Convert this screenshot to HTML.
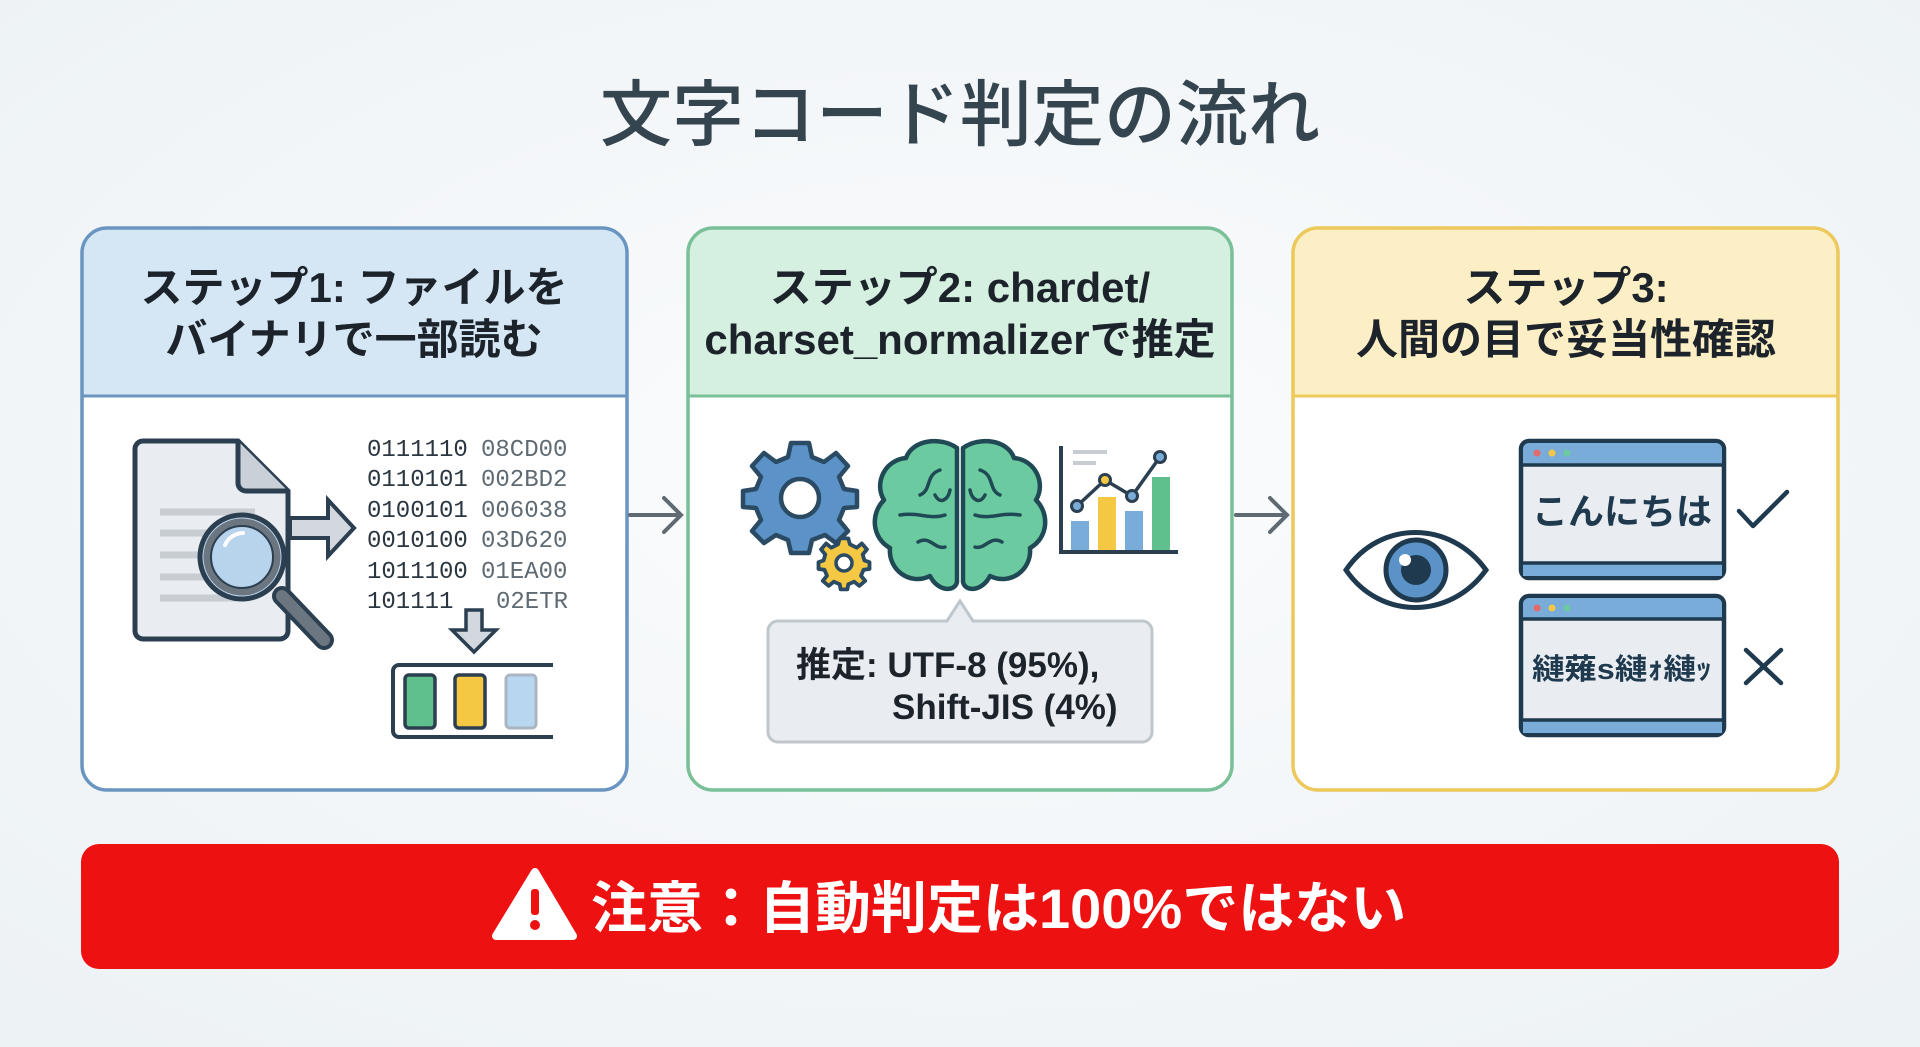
<!DOCTYPE html>
<html><head><meta charset="utf-8"><style>
html,body{margin:0;padding:0;width:1920px;height:1047px;overflow:hidden;background:#f3f6f8}
svg{display:block}
text{font-family:"Liberation Sans","Noto Sans CJK JP",sans-serif}
.h{font-size:42px;font-weight:bold;fill:#1c232a;text-anchor:middle}
text.m{font-family:"Liberation Mono","DejaVu Sans Mono",monospace;font-size:24px}
</style></head><body>
<svg width="1920" height="1047" viewBox="0 0 1920 1047">
<defs><radialGradient id="bg" cx="50%" cy="45%" r="70%"><stop offset="0" stop-color="#fbfcfd"/><stop offset="1" stop-color="#edf2f5"/></radialGradient></defs>
<rect width="1920" height="1047" fill="url(#bg)"/>
<text x="960" y="140" text-anchor="middle" font-size="72" font-weight="500" fill="#35454f" style="font-family:'Noto Sans CJK JP',sans-serif">文字コード判定の流れ</text>

<!-- Panel 1 -->
<path d="M82,396 V253 a25,25 0 0 1 25,-25 H602 a25,25 0 0 1 25,25 V396 Z" fill="#d5e7f5"/>
<path d="M84,396 H625 V765 a23,23 0 0 1 -23,23 H107 a23,23 0 0 1 -23,-23 Z" fill="#fff"/>
<rect x="82" y="228" width="545" height="562" rx="25" fill="none" stroke="#6a95c0" stroke-width="3.5"/>
<line x1="82" y1="396" x2="627" y2="396" stroke="#6a95c0" stroke-width="3"/>
<text class="h" x="354" y="302">ステップ1: ファイルを</text>
<text class="h" x="354" y="354">バイナリで一部読む</text>
<!-- doc -->
<path d="M135,449 a8,8 0 0 1 8,-8 H238 L288,491 V631 a8,8 0 0 1 -8,8 H143 a8,8 0 0 1 -8,-8 Z" fill="#e9edf1" stroke="#2b3f50" stroke-width="5"/>
<path d="M238,441 V483 a8,8 0 0 0 8,8 H288" fill="#c9d0d7" stroke="#2b3f50" stroke-width="5"/>
<g stroke="#c7cdd3" stroke-width="7"><line x1="160" y1="512" x2="255" y2="512"/><line x1="160" y1="533" x2="235" y2="533"/><line x1="160" y1="555" x2="215" y2="555"/><line x1="160" y1="577" x2="215" y2="577"/><line x1="160" y1="598" x2="240" y2="598"/></g>
<path d="M290,518 H328 V500 L354,528 L328,556 V538 H290 Z" fill="#d2d8de" stroke="#2b3f50" stroke-width="4"/>
<line x1="282" y1="596" x2="324" y2="640" stroke="#2b3f50" stroke-width="20" stroke-linecap="round"/>
<line x1="282" y1="596" x2="324" y2="640" stroke="#6b7680" stroke-width="12" stroke-linecap="round"/>
<circle cx="242" cy="557" r="42" fill="#b8d3ec" stroke="#2b3f50" stroke-width="5"/>
<circle cx="242" cy="557" r="35" fill="none" stroke="#6b7680" stroke-width="7"/>
<circle cx="242" cy="557" r="31" fill="#b8d3ec" stroke="#2b3f50" stroke-width="2"/>
<path d="M225,545 a20,20 0 0 1 18,-12" stroke="#fff" stroke-width="4" fill="none" stroke-linecap="round"/>
<g fill="#2b3640"><text class="m" x="367" y="456">0111110</text><text class="m" x="367" y="486">0110101</text><text class="m" x="367" y="517">0100101</text><text class="m" x="367" y="547">0010100</text><text class="m" x="367" y="578">1011100</text><text class="m" x="367" y="608">101111</text></g>
<g fill="#5f6a73"><text class="m" x="481" y="456">08CD00</text><text class="m" x="481" y="486">002BD2</text><text class="m" x="481" y="517">006038</text><text class="m" x="481" y="547">03D620</text><text class="m" x="481" y="578">01EA00</text><text class="m" x="496" y="608">02ETR</text></g>
<path d="M466,610 V630 H452 L474,652 L496,630 H482 V610 Z" fill="#d2d8de" stroke="#2b3f50" stroke-width="3.5"/>
<path d="M553,665 H399 a6,6 0 0 0 -6,6 V731 a6,6 0 0 0 6,6 H553" fill="#fff" stroke="#2b3f50" stroke-width="4"/>
<rect x="405" y="675" width="30" height="53" rx="4" fill="#5fbf8d" stroke="#2b3f50" stroke-width="3.5"/>
<rect x="455" y="675" width="30" height="53" rx="4" fill="#f4c842" stroke="#2b3f50" stroke-width="3.5"/>
<rect x="506" y="675" width="30" height="53" rx="4" fill="#b8d6f0" stroke="#a9b6c2" stroke-width="3"/>

<!-- arrows -->
<g stroke="#5f6a73" stroke-width="4" fill="none" stroke-linecap="round"><line x1="630" y1="515" x2="680" y2="515"/><polyline points="664,498 681,515 664,532"/>
<line x1="1236" y1="515" x2="1286" y2="515"/><polyline points="1270,498 1287,515 1270,532"/></g>

<!-- Panel 2 -->
<path d="M688,396 V253 a25,25 0 0 1 25,-25 H1207 a25,25 0 0 1 25,25 V396 Z" fill="#d5efe0"/>
<path d="M690,396 H1230 V765 a23,23 0 0 1 -23,23 H713 a23,23 0 0 1 -23,-23 Z" fill="#fff"/>
<rect x="688" y="228" width="544" height="562" rx="25" fill="none" stroke="#79c098" stroke-width="3.5"/>
<line x1="688" y1="396" x2="1232" y2="396" stroke="#79c098" stroke-width="3"/>
<text class="h" x="960" y="302">ステップ2: chardet/</text>
<text class="h" x="960" y="354">charset_normalizerで推定</text>
<!-- gears -->
<g transform="translate(800,495)"><path d="M-9,-52 H9 L12,-38 L24,-33 L36,-42 L48,-29 L39,-18 L44,-6 L57,-4 V12 L44,13 L39,25 L48,36 L36,48 L25,40 L12,45 L9,58 H-9 L-12,45 L-24,40 L-36,48 L-48,36 L-39,25 L-44,13 L-57,12 V-4 L-44,-6 L-39,-18 L-48,-29 L-36,-42 L-24,-33 L-12,-38 Z" fill="#5b93c8" stroke="#2b4a63" stroke-width="4.5" stroke-linejoin="round"/><circle cx="0" cy="3" r="19" fill="#fff" stroke="#2b4a63" stroke-width="4.5"/></g>
<g transform="translate(844,563)"><path d="M-5,-23 H5 L7,-16 L15,-12 L21,-17 L27,-10 L22,-4 L24,3 L30,5 V13 L23,14 L20,21 L25,27 L18,33 L12,28 L5,31 L4,37 H-4 L-5,31 L-12,28 L-18,33 L-25,27 L-20,21 L-23,14 L-30,13 V5 L-24,3 L-22,-4 L-27,-10 L-21,-17 L-15,-12 L-7,-16 Z" transform="scale(0.85) translate(0,-6)" fill="#f4c842" stroke="#2b4a63" stroke-width="4.5" stroke-linejoin="round"/><circle cx="0" cy="0" r="8" fill="#fff" stroke="#2b4a63" stroke-width="3.5"/></g>
<!-- brain -->
<g stroke="#1f4a55" stroke-width="4.5" fill="#6ccaa0" stroke-linejoin="round">
<path d="M957,448 C940,436 912,440 906,458 C884,460 874,484 884,500 C870,514 872,538 890,548 C888,570 910,586 930,576 C938,592 955,592 957,582 Z"/>
<path d="M963,448 C980,436 1008,440 1014,458 C1036,460 1046,484 1036,500 C1050,514 1048,538 1030,548 C1032,570 1010,586 990,576 C982,592 965,592 963,582 Z"/>
</g>
<g stroke="#1f4a55" stroke-width="3.5" fill="none" stroke-linecap="round">
<path d="M940,470 C925,475 932,490 920,495"/><path d="M900,515 C920,512 930,520 945,515"/><path d="M918,542 C930,535 935,550 945,547"/><path d="M935,495 C940,505 948,500 950,490"/>
<path d="M980,470 C995,475 988,490 1000,495"/><path d="M1020,515 C1000,512 990,520 975,515"/><path d="M1002,542 C990,535 985,550 975,547"/><path d="M985,495 C980,505 972,500 970,490"/>
</g>
<!-- chart -->
<g><line x1="1061" y1="446" x2="1061" y2="552" stroke="#2b3f50" stroke-width="4"/><line x1="1059" y1="552" x2="1178" y2="552" stroke="#2b3f50" stroke-width="4"/>
<line x1="1073" y1="452" x2="1107" y2="452" stroke="#c7cdd3" stroke-width="4"/><line x1="1073" y1="463" x2="1096" y2="463" stroke="#c7cdd3" stroke-width="4"/>
<rect x="1071" y="521" width="18" height="29" fill="#79acd9"/><rect x="1098" y="497" width="18" height="53" fill="#f4c842"/><rect x="1125" y="511" width="18" height="39" fill="#79acd9"/><rect x="1152" y="477" width="18" height="73" fill="#5fbf8d"/>
<polyline points="1077,506 1105,480 1132,496 1160,457" fill="none" stroke="#2b3f50" stroke-width="3.5"/>
<g fill="#79acd9" stroke="#2b3f50" stroke-width="3"><circle cx="1077" cy="506" r="5.5"/><circle cx="1105" cy="480" r="5.5" fill="#f4c842"/><circle cx="1132" cy="496" r="5.5"/><circle cx="1160" cy="457" r="5.5"/></g></g>
<!-- callout -->
<path d="M778,621 H947 L960,601 L973,621 H1142 a10,10 0 0 1 10,10 V732 a10,10 0 0 1 -10,10 H778 a10,10 0 0 1 -10,-10 V631 a10,10 0 0 1 10,-10 Z" fill="#e9edf1" stroke="#bfc6cc" stroke-width="3"/>
<text x="796" y="677" font-size="35" font-weight="bold" fill="#1c232a">推定: UTF-8 (95%),</text>
<text x="892" y="719" font-size="35" font-weight="bold" fill="#1c232a">Shift-JIS (4%)</text>

<!-- Panel 3 -->
<path d="M1293,396 V253 a25,25 0 0 1 25,-25 H1813 a25,25 0 0 1 25,25 V396 Z" fill="#fcefc5"/>
<path d="M1295,396 H1836 V765 a23,23 0 0 1 -23,23 H1318 a23,23 0 0 1 -23,-23 Z" fill="#fff"/>
<rect x="1293" y="228" width="545" height="562" rx="25" fill="none" stroke="#ecc95a" stroke-width="3.5"/>
<line x1="1293" y1="396" x2="1838" y2="396" stroke="#ecc95a" stroke-width="3"/>
<text class="h" x="1566" y="302">ステップ3:</text>
<text class="h" x="1566" y="354">人間の目で妥当性確認</text>
<!-- eye -->
<path d="M1346,570 C1380,520 1450,520 1486,570 C1450,620 1380,620 1346,570 Z" fill="#fff" stroke="#1f3a4f" stroke-width="5"/>
<circle cx="1416" cy="570" r="30" fill="#5b93c8" stroke="#1f3a4f" stroke-width="5"/>
<circle cx="1416" cy="570" r="15" fill="#1f3a4f"/>
<circle cx="1405" cy="560" r="6" fill="#fff"/>
<!-- windows -->
<g>
<rect x="1521" y="441" width="203" height="137" rx="8" fill="#e9edf1" stroke="#1f3a4f" stroke-width="4.5"/>
<path d="M1523,464 V449 a6,6 0 0 1 6,-6 H1716 a6,6 0 0 1 6,6 V464 Z" fill="#79acd9"/>
<line x1="1521" y1="465" x2="1724" y2="465" stroke="#1f3a4f" stroke-width="3.5"/>
<rect x="1523" y="564" width="199" height="12" fill="#79acd9"/>
<line x1="1521" y1="563" x2="1724" y2="563" stroke="#1f3a4f" stroke-width="3.5"/>
<circle cx="1537" cy="453" r="3.5" fill="#e76a6a"/><circle cx="1552" cy="453" r="3.5" fill="#f4c842"/><circle cx="1567" cy="453" r="3.5" fill="#6ccaa0"/>
<text x="1622" y="524" text-anchor="middle" font-size="36" font-weight="bold" fill="#1f3a4f">こんにちは</text>
</g>
<g>
<rect x="1521" y="596" width="203" height="139" rx="8" fill="#e9edf1" stroke="#1f3a4f" stroke-width="4.5"/>
<path d="M1523,618 V604 a6,6 0 0 1 6,-6 H1716 a6,6 0 0 1 6,6 V618 Z" fill="#79acd9"/>
<line x1="1521" y1="619" x2="1724" y2="619" stroke="#1f3a4f" stroke-width="3.5"/>
<rect x="1523" y="721" width="199" height="12" fill="#79acd9"/>
<line x1="1521" y1="720" x2="1724" y2="720" stroke="#1f3a4f" stroke-width="3.5"/>
<circle cx="1537" cy="608" r="3.5" fill="#e76a6a"/><circle cx="1552" cy="608" r="3.5" fill="#f4c842"/><circle cx="1567" cy="608" r="3.5" fill="#6ccaa0"/>
<text x="1622" y="679" text-anchor="middle" font-size="29" font-weight="bold" fill="#1f3a4f" textLength="180" lengthAdjust="spacingAndGlyphs">縺薙s縺ｫ縺ｯ</text>
</g>
<polyline points="1739,511 1753,526 1787,492" fill="none" stroke="#1f3a4f" stroke-width="4.5" stroke-linecap="round" stroke-linejoin="round"/>
<g stroke="#1f3a4f" stroke-width="4.5" stroke-linecap="round"><line x1="1746" y1="650" x2="1781" y2="683"/><line x1="1781" y1="650" x2="1746" y2="683"/></g>

<!-- warning -->
<rect x="81" y="844" width="1758" height="125" rx="18" fill="#ee1111"/>
<path d="M535,872 L573,936 H496 Z" fill="#fff" stroke="#fff" stroke-width="8" stroke-linejoin="round"/>
<rect x="531" y="889" width="8" height="26" rx="3" fill="#ee1111"/><circle cx="535" cy="925" r="5" fill="#ee1111"/>
<text x="591" y="928" font-size="56" font-weight="bold" fill="#fff">注意：自動判定は100%ではない</text>
</svg>
</body></html>
